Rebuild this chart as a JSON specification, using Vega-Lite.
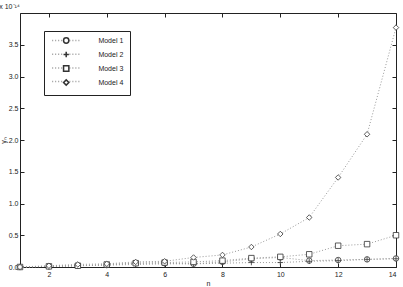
{
  "$schema": "https://vega.github.io/schema/vega-lite/v6.json",
  "width": 376,
  "height": 254,
  "autosize": "none",
  "padding": {"left": 20, "top": 13, "right": 7, "bottom": 20},
  "background": "white",
  "title": {"text": "x 10⁻¹⁴", "anchor": "start", "fontSize": 7, "font": "Liberation Sans", "fontWeight": "normal", "color": "#222", "offset": 3},
  "data": {"values": [
    {"n":1,"model":"Model 1","v":0},{"n":2,"model":"Model 1","v":0.01},{"n":3,"model":"Model 1","v":0.02},{"n":4,"model":"Model 1","v":0.03},{"n":5,"model":"Model 1","v":0.06},{"n":6,"model":"Model 1","v":0.06},{"n":7,"model":"Model 1","v":0.05},{"n":8,"model":"Model 1","v":0.08},{"n":9,"model":"Model 1","v":0.13},{"n":10,"model":"Model 1","v":0.15},{"n":11,"model":"Model 1","v":0.1},{"n":12,"model":"Model 1","v":0.11},{"n":13,"model":"Model 1","v":0.12},{"n":14,"model":"Model 1","v":0.135},
    {"n":1,"model":"Model 2","v":0},{"n":2,"model":"Model 2","v":0.01},{"n":3,"model":"Model 2","v":0.02},{"n":4,"model":"Model 2","v":0.03},{"n":5,"model":"Model 2","v":0.04},{"n":6,"model":"Model 2","v":0.05},{"n":7,"model":"Model 2","v":0.05},{"n":8,"model":"Model 2","v":0.06},{"n":9,"model":"Model 2","v":0.07},{"n":10,"model":"Model 2","v":0.07},{"n":11,"model":"Model 2","v":0.09},{"n":12,"model":"Model 2","v":0.1},{"n":13,"model":"Model 2","v":0.12},{"n":14,"model":"Model 2","v":0.13},
    {"n":1,"model":"Model 3","v":0},{"n":2,"model":"Model 3","v":0.01},{"n":3,"model":"Model 3","v":0.02},{"n":4,"model":"Model 3","v":0.04},{"n":5,"model":"Model 3","v":0.06},{"n":6,"model":"Model 3","v":0.07},{"n":7,"model":"Model 3","v":0.08},{"n":8,"model":"Model 3","v":0.1},{"n":9,"model":"Model 3","v":0.14},{"n":10,"model":"Model 3","v":0.16},{"n":11,"model":"Model 3","v":0.2},{"n":12,"model":"Model 3","v":0.335},{"n":13,"model":"Model 3","v":0.36},{"n":14,"model":"Model 3","v":0.5},
    {"n":1,"model":"Model 4","v":0},{"n":2,"model":"Model 4","v":0.02},{"n":3,"model":"Model 4","v":0.04},{"n":4,"model":"Model 4","v":0.05},{"n":5,"model":"Model 4","v":0.08},{"n":6,"model":"Model 4","v":0.09},{"n":7,"model":"Model 4","v":0.15},{"n":8,"model":"Model 4","v":0.19},{"n":9,"model":"Model 4","v":0.315},{"n":10,"model":"Model 4","v":0.52},{"n":11,"model":"Model 4","v":0.78},{"n":12,"model":"Model 4","v":1.41},{"n":13,"model":"Model 4","v":2.09},{"n":14,"model":"Model 4","v":3.77}
  ]},
  "layer": [
    {
      "mark": {"type": "line", "stroke": "#999", "strokeWidth": 1},
      "encoding": {
        "x": {"field": "n", "type": "quantitative", "scale": {"domain": [1, 14], "nice": false},
              "axis": {"orient": "top", "title": null, "labels": false, "values": [2,4,6,8,10,12,14], "domain": false, "grid": false, "tickSize": -4}},
        "y": {"field": "v", "type": "quantitative", "scale": {"domain": [0, 4], "nice": false},
              "axis": {"orient": "right", "title": null, "labels": false, "values": [0,0.5,1,1.5,2,2.5,3,3.5], "domain": false, "grid": false, "tickSize": -4}},
        "strokeDash": {"field": "model", "type": "nominal",
          "scale": {"domain": ["Model 1", "Model 2", "Model 3", "Model 4"], "range": [[1,2],[1,2],[1,2],[1,2]]},
          "legend": {"orient": "none", "legendX": 24, "legendY": 18, "title": null, "symbolType": "M-5.3,0H-1.2M1.2,0H5.3", "symbolSize": 28, "symbolOffset": 12.7, "labelOffset": 28.7, "labelColor": "transparent", "labelFontSize": 7, "padding": 6, "rowPadding": 5.7,
            "encode": {"symbols": {"update": {"shape": {"value": "M-5.3,0H-1.2M1.2,0H5.3"}, "stroke": {"value": "#999"}, "strokeDash": {"value": [1,2]}, "fill": {"value": "transparent"}, "opacity": {"value": 1}, "strokeWidth": {"value": 1}, "size": {"value": 28}}}}}}
      }
    },
    {
      "mark": {"type": "point", "filled": false, "fill": "white", "fillOpacity": 1, "stroke": "#333", "strokeWidth": 0.8, "size": 30, "opacity": 1},
      "encoding": {
        "x": {"field": "n", "type": "quantitative",
              "axis": {"orient": "bottom", "title": "n", "values": [2,4,6,8,10,12,14], "grid": false, "tickSize": -4, "labelPadding": 7, "titlePadding": 2}},
        "y": {"field": "v", "type": "quantitative",
              "axis": {"orient": "left", "title": "γₙ", "values": [0,0.5,1,1.5,2,2.5,3,3.5], "grid": false, "tickSize": -4, "labelPadding": 6, "titlePadding": 2}},
        "shape": {"field": "model", "type": "nominal",
          "scale": {"range": ["circle", "M-1,0H1M0,-1V1", "square", "diamond"]},
          "legend": {"orient": "none", "legendX": 24, "legendY": 18, "title": null, "symbolSize": 28, "symbolOffset": 12.7, "labelOffset": 28.7, "labelFontSize": 7, "labelColor": "#222", "strokeColor": "#222", "padding": 6, "rowPadding": 1,
            "encode": {"symbols": {"update": {"stroke": {"value": "#333"}, "fill": {"value": "white"}, "fillOpacity": {"value": 1}, "opacity": {"value": 1}, "strokeWidth": {"value": 0.8}, "size": {"value": 28}}}}}}
      }
    }
  ],
  "config": {
    "view": {"stroke": "#222", "strokeWidth": 1},
    "font": "Liberation Sans",
    "axis": {"labelFont": "Liberation Sans", "labelFontSize": 7, "labelColor": "#222", "titleFont": "Liberation Sans", "titleFontSize": 7, "titleFontWeight": "normal", "titleColor": "#222", "domainColor": "#222", "tickColor": "#222", "tickWidth": 1},
    "legend": {"labelFont": "Liberation Sans"}
  }
}
